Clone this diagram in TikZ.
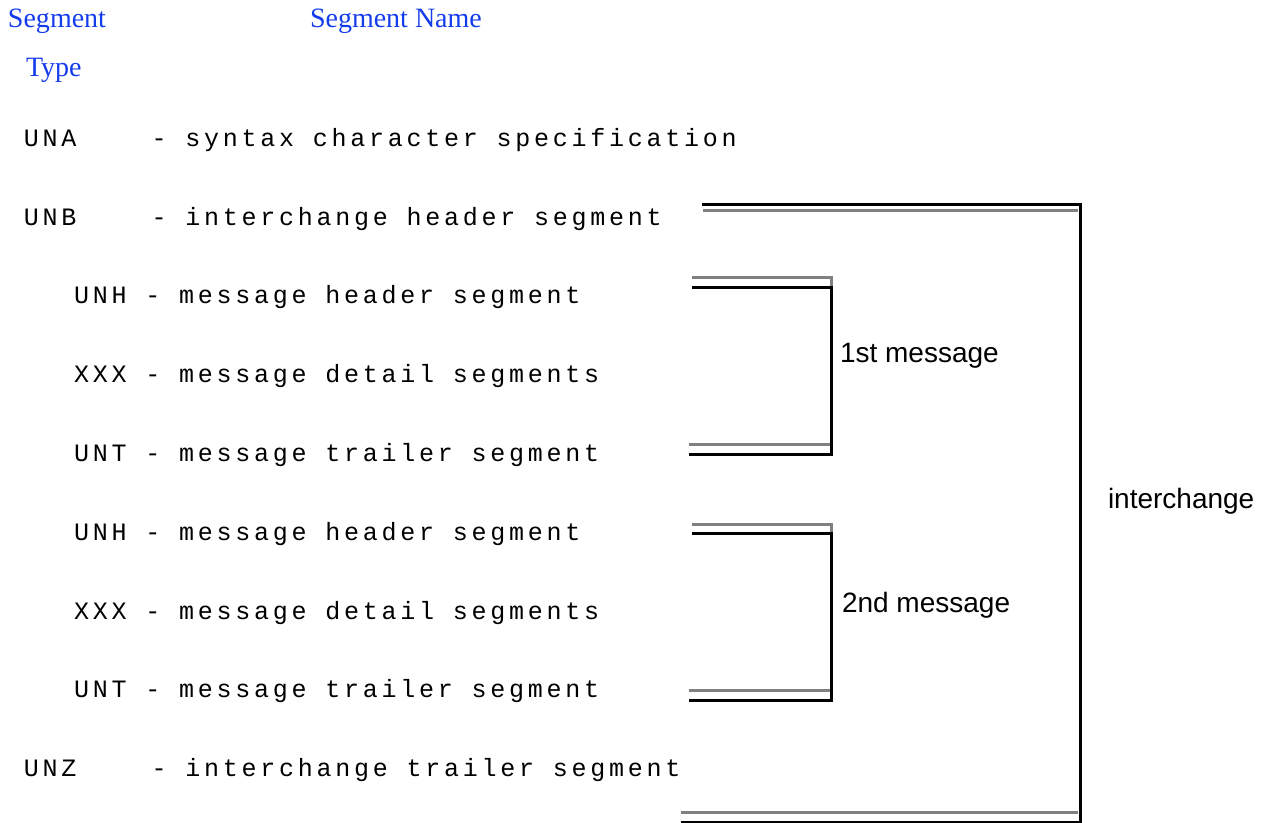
\documentclass[tikz,border=0pt]{standalone}
\usepackage{fontspec}
\setmainfont{Liberation Serif}
\setsansfont{Liberation Sans}
\newfontfamily\segfont{Liberation Mono}[LetterSpace=15]
\usetikzlibrary{positioning}
\definecolor{headblue}{RGB}{20,60,235}
\definecolor{rulegray}{RGB}{128,128,128}

\begin{document}
\begin{tikzpicture}[
    x=0.5pt, y=-0.5pt,
    every node/.style={inner sep=0pt, outer sep=0pt},
    head/.style={anchor=base west, text=headblue, font=\rmfamily\fontsize{14}{16}\selectfont},
    seg/.style={anchor=base west, font=\segfont\fontsize{12.5}{14}\selectfont},
    tag/.style={anchor=base west, font=\sffamily\fontsize{14}{16}\selectfont},
    blackrule/.style={line width=1.5pt, black},
    grayrule/.style={line width=1.5pt, rulegray}
]
\useasboundingbox (0,0) rectangle (1268,823);

\node (segtype) [head] at (8,28) {Segment};
\node (segname) [head] at (310,28) {Segment Name};
\node (type) [head] at (26,77) {Type};

\node (una) [seg] at (24,147) {UNA~~~~- syntax character specification};
\node (unb) [seg] at (24,226) {UNB~~~~- interchange header segment};
\node (unh1) [seg] at (74,304) {UNH - message header segment};
\node (xxx1) [seg] at (74,383) {XXX - message detail segments};
\node (unt1) [seg] at (74,461) {UNT - message trailer segment};
\node (unh2) [seg] at (74,540) {UNH - message header segment};
\node (xxx2) [seg] at (74,619) {XXX - message detail segments};
\node (unt2) [seg] at (74,697) {UNT - message trailer segment};
\node (unz) [seg] at (24,776) {UNZ~~~~- interchange trailer segment};

\node (msg1) [tag] at (840,363) {1st message};
\node (msg2) [tag] at (842,612) {2nd message};
\node (inter) [tag] at (1108,508) {interchange};

\coordinate (ia) at (702,205);
\coordinate (ib) at (1080,205);
\coordinate (ic) at (1080,822);
\coordinate (id) at (681,822);
\coordinate (m1a) at (692,288);
\coordinate (m1b) at (831,288);
\coordinate (m1c) at (831,454);
\coordinate (m1d) at (689,454);
\coordinate (m2a) at (692,533);
\coordinate (m2b) at (831,533);
\coordinate (m2c) at (831,700);
\coordinate (m2d) at (689,700);

\draw [grayrule] (703,211) -- (1078,211);
\draw [grayrule] (681,812) -- (1078,812);
\draw [blackrule] (ia) -- (ib) -- (ic) -- (id);

\draw [grayrule] (692,278) -- (831,278) -- (m1b);
\draw [grayrule] (689,444) -- (830,444);
\draw [blackrule] (m1a) -- (m1b) -- (m1c) -- (m1d);

\draw [grayrule] (692,524) -- (831,524) -- (m2b);
\draw [grayrule] (689,690) -- (830,690);
\draw [blackrule] (m2a) -- (m2b) -- (m2c) -- (m2d);

\end{tikzpicture}
\end{document}
